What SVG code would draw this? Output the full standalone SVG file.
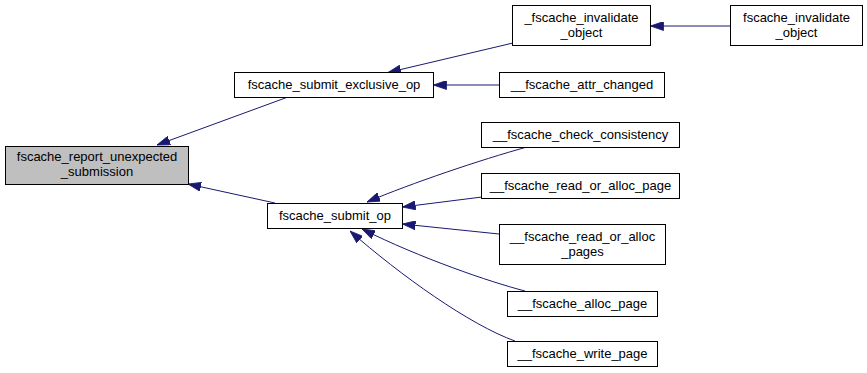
<svg xmlns="http://www.w3.org/2000/svg" width="867" height="373" viewBox="0 0 867 373">
  <style>
    .node rect { fill: #ffffff; stroke: #000000; stroke-width: 1; }
    .node.root rect { fill: #bfbfbf; }
    .node text { font-family: "Liberation Sans", Arial, sans-serif; font-size: 13px; fill: #000000; text-anchor: middle; }
    .edge { fill: none; stroke: #191970; stroke-width: 1; marker-end: url(#arrow); }
  </style>
  <defs>
    <marker id="arrow" viewBox="0 0 13 9" refX="13" refY="4.5" markerWidth="13" markerHeight="9" markerUnits="userSpaceOnUse" orient="auto">
      <path d="M0,0 L13,4.5 L0,9 Z" fill="#191970" stroke="#191970" stroke-width="0.8"/>
    </marker>
  </defs>
  <rect width="867" height="373" fill="#ffffff"/>

  <g id="edges">
    <path class="edge" d="M288,97 L157,145"/>
    <path class="edge" d="M275,203 L188,184"/>
    <path class="edge" d="M513,43 L388,72.5"/>
    <path class="edge" d="M499,85 L433.5,85"/>
    <path class="edge" d="M730,26 L650.5,26"/>
    <path class="edge" d="M527,147 C480,160 412,183 367,202"/>
    <path class="edge" d="M482,197 L402.5,207"/>
    <path class="edge" d="M499,234 L402.5,224"/>
    <path class="edge" d="M525,291 C490,282 420,258 362,229"/>
    <path class="edge" d="M515,341 C470,325 400,275 350,231"/>
  </g>

  <g id="node-report" class="node root">
    <rect x="5.5" y="146.5" width="183" height="38"/>
    <text x="97" y="161">fscache_report_unexpected</text>
    <text x="97" y="176">_submission</text>
  </g>
  <g id="node-submit-exclusive" class="node">
    <rect x="234.5" y="72.5" width="199" height="25"/>
    <text x="334" y="89">fscache_submit_exclusive_op</text>
  </g>
  <g id="node-invalidate-internal" class="node">
    <rect x="512.5" y="5.5" width="138" height="40"/>
    <text x="581.5" y="22">_fscache_invalidate</text>
    <text x="581.5" y="37">_object</text>
  </g>
  <g id="node-invalidate" class="node">
    <rect x="730.5" y="5.5" width="132" height="40"/>
    <text x="796.5" y="22">fscache_invalidate</text>
    <text x="796.5" y="37">_object</text>
  </g>
  <g id="node-attr-changed" class="node">
    <rect x="499.5" y="72.5" width="165" height="25"/>
    <text x="582" y="89">__fscache_attr_changed</text>
  </g>
  <g id="node-submit-op" class="node">
    <rect x="267.5" y="203.5" width="135" height="25"/>
    <text x="335" y="220">fscache_submit_op</text>
  </g>
  <g id="node-check-consistency" class="node">
    <rect x="481.5" y="122.5" width="198" height="25"/>
    <text x="580.5" y="139">__fscache_check_consistency</text>
  </g>
  <g id="node-read-or-alloc-page" class="node">
    <rect x="481.5" y="173.5" width="198" height="25"/>
    <text x="580.5" y="190">__fscache_read_or_alloc_page</text>
  </g>
  <g id="node-read-or-alloc-pages" class="node">
    <rect x="499.5" y="224.5" width="166" height="40"/>
    <text x="582.5" y="241">__fscache_read_or_alloc</text>
    <text x="582.5" y="256">_pages</text>
  </g>
  <g id="node-alloc-page" class="node">
    <rect x="507.5" y="291.5" width="150" height="25"/>
    <text x="582.5" y="308">__fscache_alloc_page</text>
  </g>
  <g id="node-write-page" class="node">
    <rect x="507.5" y="341.5" width="150" height="25"/>
    <text x="582.5" y="358">__fscache_write_page</text>
  </g>
</svg>
